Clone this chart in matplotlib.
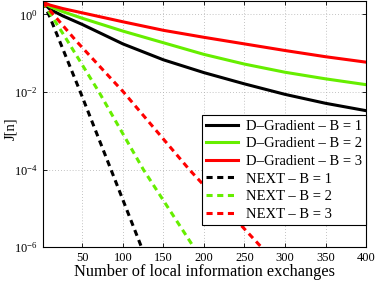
import matplotlib
matplotlib.use("Agg")
import matplotlib.pyplot as plt
import numpy as np

plt.rcParams["font.family"] = ["Liberation Serif", "DejaVu Serif"]
plt.rcParams["mathtext.fontset"] = "custom"
plt.rcParams["mathtext.rm"] = "Liberation Serif"
plt.rcParams["mathtext.it"] = "Liberation Serif:italic"

# D-Gradient curves, values as log10(J[n])
n_grad = [1, 10, 26, 50, 100, 150, 200, 250, 300, 350, 400]
grad_b1 = [0.32, 0.13, -0.04, -0.26, -0.76, -1.17, -1.50, -1.79, -2.06, -2.29, -2.48]
grad_b2 = [0.32, 0.20, 0.07, -0.10, -0.43, -0.73, -1.03, -1.28, -1.49, -1.66, -1.81]
grad_b3 = [0.32, 0.24, 0.15, 0.04, -0.19, -0.41, -0.59, -0.76, -0.93, -1.09, -1.23]

# NEXT curves (linear rate), log10(J[n])
n_next_b1 = [1, 9.3, 47.5, 85.3, 123]
next_b1 = [0.32, -0.04, -2, -4, -6]
n_next_b2 = [1, 28, 70.5, 125.3, 187.5]
next_b2 = [0.32, -0.56, -2, -4, -6]
n_next_b3 = [1, 42.6, 100.7, 182, 271]
next_b3 = [0.32, -0.69, -2, -4, -6]

green = "#66ee00"
red = "#ff0000"

fig = plt.figure(figsize=(3.76, 2.81), dpi=100)
ax = fig.add_axes([0.1135, 0.12, 0.86, 0.876])

lw = 2.2
dash = (0, (2.0, 1.5))
ax.semilogy(n_grad, 10 ** np.array(grad_b1), color="black", lw=lw, label="D–Gradient – B = 1")
ax.semilogy(n_grad, 10 ** np.array(grad_b2), color=green, lw=lw, label="D–Gradient – B = 2")
ax.semilogy(n_grad, 10 ** np.array(grad_b3), color=red, lw=lw, label="D–Gradient – B = 3")
ax.semilogy(n_next_b1, 10 ** np.array(next_b1), color="black", lw=lw, ls=dash, label="NEXT – B = 1")
ax.semilogy(n_next_b2, 10 ** np.array(next_b2), color=green, lw=lw, ls=dash, label="NEXT – B = 2")
ax.semilogy(n_next_b3, 10 ** np.array(next_b3), color=red, lw=lw, ls=dash, label="NEXT – B = 3")

ax.set_xlim(1, 400)
ax.set_ylim(1e-6, 2.2)
ax.set_xticks([50, 100, 150, 200, 250, 300, 350, 400])
ax.set_yticks([1e-6, 1e-4, 1e-2, 1e0])
ax.yaxis.set_minor_locator(matplotlib.ticker.NullLocator())
ax.tick_params(which="both", direction="in", top=True, right=True, labelsize=9, length=3, width=0.6)
ax.grid(True, color="#b0b0b0", linestyle=(0, (1, 2.5)), linewidth=0.6)
for s in ax.spines.values():
    s.set_linewidth(0.8)

ax.set_xlabel("Number of local information exchanges", fontsize=11.8, labelpad=0)
ax.set_ylabel("J[n]", fontsize=10.5)
ax.yaxis.set_label_coords(-0.078, 0.48)

leg = ax.legend(loc="lower right", fontsize=10.5, frameon=True, fancybox=False,
                edgecolor="black", framealpha=1, handlelength=2.2,
                borderaxespad=0.0, labelspacing=0.3, borderpad=0.3, handletextpad=0.5)
leg.get_frame().set_linewidth(0.8)
leg.set_bbox_to_anchor((1.0, 0.09), transform=ax.transAxes)

fig.savefig("out.png", dpi=100)
